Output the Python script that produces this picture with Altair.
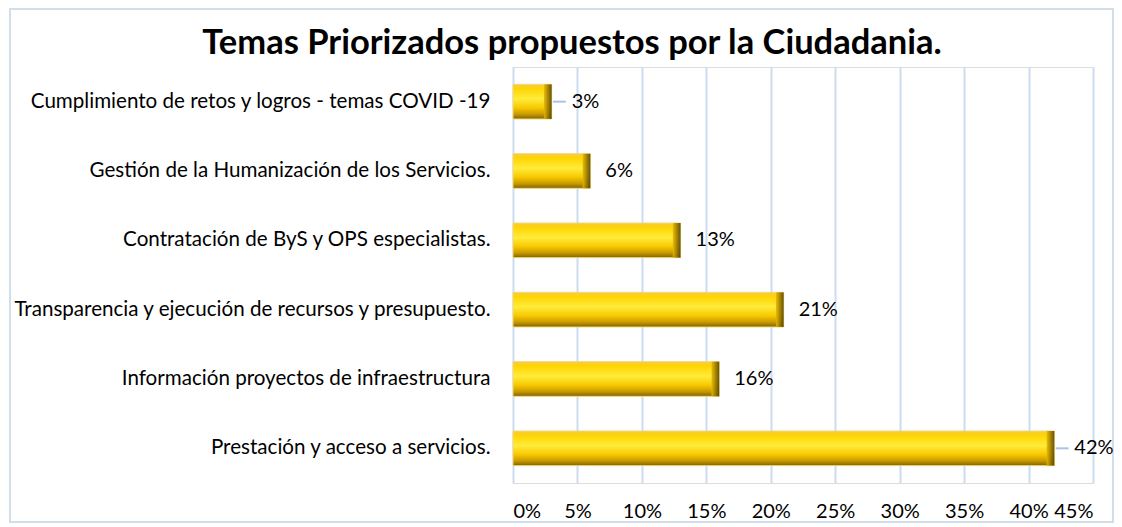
import altair as alt
import pandas as pd

categories = [
    "Cumplimiento de retos y logros - temas COVID -19",
    "Gestión de la Humanización de los Servicios.",
    "Contratación de ByS y OPS especialistas.",
    "Transparencia y ejecución de recursos y presupuesto.",
    "Información proyectos de infraestructura",
    "Prestación y acceso a servicios.",
]
values = [3, 6, 13, 21, 16, 42]
leader = [True, False, False, False, False, True]
x_ticks = [0, 5, 10, 15, 20, 25, 30, 35, 40, 45]
title_text = ["Temas Priorizados propuestos por la Ciudadania."]

df = pd.DataFrame({"cat": categories, "val": values, "leader": leader})

FONT = "Lato"
W, H = 580, 416
PAD_L, PAD_T, PAD_R, PAD_B = 505, 59, 21, 41

y_enc = alt.Y(
    "cat:N", sort=categories, title=None,
    scale=alt.Scale(paddingInner=0.5, paddingOuter=0.25),
    axis=alt.Axis(labelFont=FONT, labelFontSize=20.6, labelColor="#000000",
                  labelPadding=23, ticks=False, domain=False, grid=False,
                  labelLimit=520),
)
x_scale = alt.Scale(domain=[0, 45], nice=False)
x_enc = alt.X(
    "val:Q", scale=x_scale, title=None,
    axis=alt.Axis(values=x_ticks, labelExpr="datum.value + '%'",
                  labelFont=FONT, labelFontSize=20, labelColor="#000000",
                  labelPadding=18, ticks=False, domain=False,
                  grid=True, gridColor="#CCDCF0", gridWidth=2),
)

base = alt.Chart(df)

bar_grad = alt.Gradient(
    gradient="linear", x1=0, x2=0, y1=0, y2=1,
    stops=[
        alt.GradientStop(offset=0, color="#F2CC4A"),
        alt.GradientStop(offset=0.12, color="#FFD400"),
        alt.GradientStop(offset=0.42, color="#FFEC3A"),
        alt.GradientStop(offset=0.68, color="#F7C800"),
        alt.GradientStop(offset=0.86, color="#C99A00"),
        alt.GradientStop(offset=1, color="#7E6200"),
    ],
)
cap_grad = alt.Gradient(
    gradient="linear", x1=0, x2=1, y1=0, y2=0,
    stops=[
        alt.GradientStop(offset=0, color="#E8B800"),
        alt.GradientStop(offset=1, color="#4E3C00"),
    ],
)

bars = base.mark_bar(fill=bar_grad, stroke="#F3D77A", strokeWidth=1).encode(
    x=x_enc, y=y_enc
)
caps = base.transform_calculate(start="datum.val - 0.6").mark_bar(
    fill=cap_grad, opacity=0.85
).encode(
    x=alt.X("start:Q", scale=x_scale),
    x2="val:Q",
    y=alt.Y("cat:N", sort=categories),
)

leaders = base.transform_filter("datum.leader").transform_calculate(
    a="datum.val + 0.1", b="datum.val + 1.1"
).mark_rule(color="#A9C4E4", strokeWidth=2).encode(
    x=alt.X("a:Q", scale=x_scale), x2="b:Q", y=alt.Y("cat:N", sort=categories)
)

labels_far = base.transform_filter("datum.leader").transform_calculate(
    label="datum.val + '%'"
).mark_text(
    align="left", baseline="middle", dx=20, font=FONT, fontSize=20, color="#000000"
).encode(x=alt.X("val:Q", scale=x_scale), y=alt.Y("cat:N", sort=categories),
         text=alt.Text("label:N"))

labels_near = base.transform_filter("!datum.leader").transform_calculate(
    label="datum.val + '%'"
).mark_text(
    align="left", baseline="middle", dx=15, font=FONT, fontSize=20, color="#000000"
).encode(x=alt.X("val:Q", scale=x_scale), y=alt.Y("cat:N", sort=categories),
         text=alt.Text("label:N"))

title = alt.Chart(pd.DataFrame({"t": title_text})).mark_text(
    align="center", baseline="alphabetic", font=FONT, fontSize=34.5,
    fontWeight="bold", color="#000000"
).encode(x=alt.value(59), y=alt.value(-13), text="t:N")

frame = alt.Chart(pd.DataFrame({"f": [0]})).mark_rect(
    fill=None, stroke="#D3DEEB", strokeWidth=2
).encode(
    x=alt.value(-PAD_L + 2), x2=alt.value(W + PAD_R - 1),
    y=alt.value(-PAD_T + 1), y2=alt.value(H + 39),
)

chart = alt.layer(frame, bars, caps, leaders, labels_far, labels_near, title).properties(
    width=W, height=H,
    autosize=alt.AutoSizeParams(type="none"),
    padding={"left": PAD_L, "top": PAD_T, "right": PAD_R, "bottom": PAD_B},
).configure_view(stroke=None).configure(background="#FFFFFF")

chart.save("out.html", embed_options={"renderer": "svg", "actions": False})
